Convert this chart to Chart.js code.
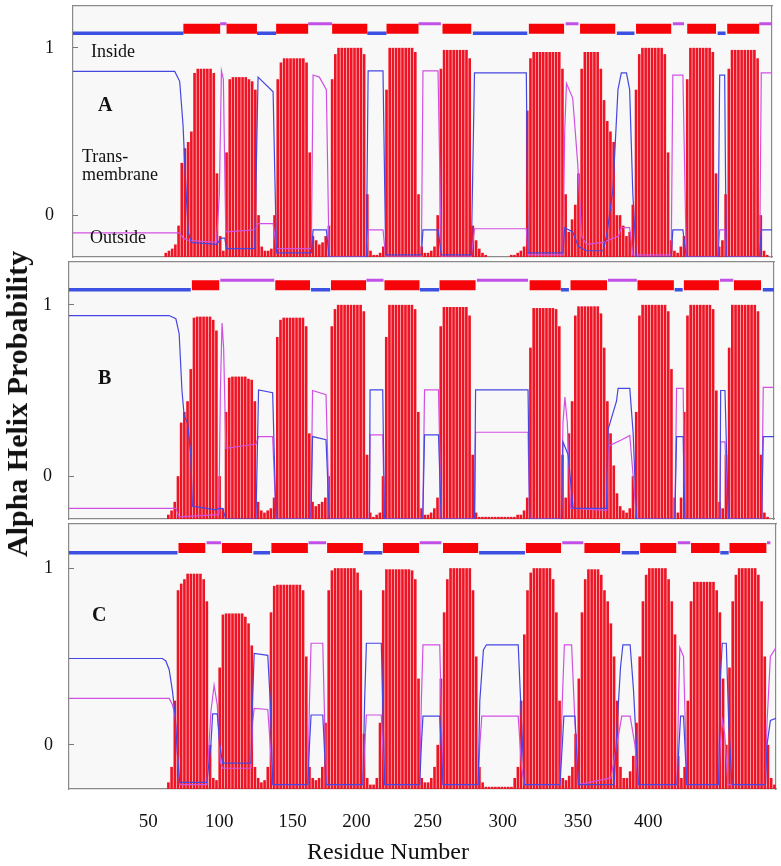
<!DOCTYPE html>
<html>
<head>
<meta charset="utf-8">
<script src="https://cdn.jsdelivr.net/npm/chart.js@4.4.1/dist/chart.umd.min.js"></script>
<style>
    html, body { margin: 0; padding: 0; background: #fff; }
    #wrap { position: relative; width: 781px; height: 866px; overflow: hidden; font-family: "Liberation Serif", "Times New Roman", serif; color: #111; }
    .panel { position: absolute; left: 0; width: 781px; }
    .note { position: absolute; font-size: 18px; line-height: 1; white-space: nowrap; }
    .tag { position: absolute; font-size: 20px; line-height: 1; font-weight: bold; }
    #ytitle { position: absolute; left: 17px; top: 404px; transform: translate(-50%, -50%) rotate(-90deg); font-size: 30px; font-weight: bold; white-space: nowrap; line-height: 1; }
    #xtitle { position: absolute; left: 388px; top: 851px; transform: translate(-50%, -50%); font-size: 24px; white-space: nowrap; line-height: 1; }
</style>
</head>
<body>
<div id="wrap">
    <div class="panel" style="top:0;height:260px"><canvas id="panelA"></canvas></div>
    <div class="panel" style="top:259px;height:262px"><canvas id="panelB"></canvas></div>
    <div class="panel" style="top:521px;height:345px"><canvas id="panelC"></canvas></div>

    <div class="note" style="left:91px;top:42px">Inside</div>
    <div class="tag" style="left:98px;top:94px">A</div>
    <div class="note" style="left:82px;top:147px">Trans-</div>
    <div class="note" style="left:82px;top:165px">membrane</div>
    <div class="note" style="left:90px;top:228px">Outside</div>
    <div class="tag" style="left:98px;top:367px">B</div>
    <div class="tag" style="left:92px;top:604px">C</div>

    <div id="ytitle">Alpha Helix Probability</div>
    <div id="xtitle">Residue Number</div>
</div>
<script>
// one bar every 2 residues, first bar at residue 0
const barStep = 2;

// transmembrane helix probability (red bars), residues 0,2,4,...,440
const tmA = [
    0,0,0,0,0,0,0,0,0,0,
    0,0,0,0,0,0,0,0,0,0,
    0,0,0,0,0,0,0,0,0,0,
    .02,.03,.04,.06,.15,.45,.52,.55,.6,.88,
    .9,.9,.9,.9,.9,.88,.4,.1,.03,.5,
    .85,.86,.86,.86,.86,.86,.85,.84,.8,.2,
    .05,.03,.03,.04,.2,.85,.93,.95,.95,.95,
    .95,.95,.95,.95,.93,.5,.1,.08,.06,.07,
    .1,.15,.85,.97,1,1,1,1,1,1,
    1,1,.97,.3,.03,.01,.01,.02,.05,.8,
    1,1,1,1,1,1,1,1,.98,.3,
    .05,.02,.02,.03,.05,.2,.9,.99,.99,.99,
    .99,.99,.99,.99,.99,.95,.15,.08,.04,.02,
    .01,0,0,0,0,0,0,0,.01,.01,
    .02,.03,.05,.7,.95,.98,.98,.98,.98,.98,
    .98,.98,.98,.98,.9,.3,.12,.18,.25,.4,
    .9,.98,.98,.98,.98,.98,.9,.75,.65,.6,
    .55,.2,.2,.15,.1,.12,.25,.8,.97,1,
    1,1,1,1,1,1,.97,.5,.08,.03,
    .02,.05,.1,.85,1,1,1,1,1,1,
    1,.98,.4,.05,.08,.3,.9,.99,.99,.99,
    .99,.99,.99,.99,.99,.95,.2,.03,.01,0,
    0
];
const tmB = [
    0,0,0,0,0,0,0,0,0,0,
    0,0,0,0,0,0,0,0,0,0,
    0,0,0,0,0,0,0,0,0,0,
    0,.02,.04,.08,.2,.45,.5,.55,.7,.94,
    .945,.945,.945,.945,.945,.93,.88,.2,.05,.5,
    .66,.665,.665,.665,.665,.665,.655,.65,.55,.08,
    .04,.03,.04,.05,.1,.85,.93,.94,.94,.94,
    .94,.94,.94,.94,.9,.4,.08,.06,.07,.08,
    .1,.2,.9,.98,1,1,1,1,1,1,
    1,1,.97,.3,.03,.01,.02,.03,.2,.85,
    1,1,1,1,1,1,1,1,.98,.5,
    .05,.02,.02,.03,.05,.1,.9,.99,.99,.99,
    .99,.99,.99,.99,.99,.95,.3,.03,.01,.01,
    .01,.01,.01,.01,.01,.01,.01,.01,.01,.01,
    .02,.02,.04,.1,.8,.985,.985,.985,.985,.985,
    .985,.985,.98,.9,.3,.1,.4,.55,.95,.993,
    .993,.993,.993,.993,.993,.993,.96,.8,.55,.4,
    .25,.12,.06,.04,.03,.05,.2,.5,.95,1,
    1,1,1,1,1,1,1,.97,.7,.1,
    .03,.1,.5,.95,1,1,1,1,1,1,
    1,.98,.6,.08,.05,.3,.8,1,1,1,
    1,1,1,1,1,.97,.3,.03,.01,0,
    0
];
const tmC = [
    0,0,0,0,0,0,0,0,0,0,
    0,0,0,0,0,0,0,0,0,0,
    0,0,0,0,0,0,0,0,0,0,
    0,.03,.1,.4,.9,.93,.95,.975,.975,.975,
    .975,.975,.95,.85,.2,.05,.04,.55,.79,.795,
    .795,.795,.795,.795,.795,.78,.75,.65,.1,.05,
    .03,.04,.1,.8,.92,.925,.925,.925,.925,.925,
    .925,.925,.925,.9,.6,.1,.05,.04,.05,.1,
    .3,.9,.99,1,1,1,1,1,1,1,
    .98,.9,.25,.05,.02,.02,.05,.3,.9,.995,
    .995,.995,.995,.995,.995,.995,.995,.99,.95,.5,
    .05,.03,.03,.05,.1,.2,.5,.8,.95,1,
    1,1,1,1,1,1,.9,.6,.1,.03,
    .01,.01,.01,.01,.01,.01,.01,.01,.01,.05,
    .1,.4,.7,.9,.98,1,1,1,1,1,
    1,.95,.8,.4,.05,.04,.06,.1,.25,.5,
    .8,.95,.995,.995,.995,.995,.97,.9,.85,.75,
    .6,.4,.1,.05,.05,.08,.15,.3,.6,.85,
    .97,1,1,1,1,1,1,.95,.85,.7,
    .15,.05,.1,.4,.85,.938,.938,.938,.938,.938,
    .938,.938,.9,.8,.5,.2,.55,.85,.97,1,
    1,1,1,1,1,.97,.85,.6,.2,.05,
    .02
];

// inside (blue) and outside (magenta) probability, [residue, value]
const insideA = [[2,.887],[65.6,.887],[68.7,.84],[70.8,.63],[71.9,.44],[74,.12],[76,.07],[91.7,.06],[94.8,.09],[96.9,.09],[97.9,.04],[115.6,.04],[117.7,.86],[127.1,.79],[129.2,.02],[151,.02],[152.1,.13],[160.4,.13],[162.1,0],[185.4,0],[186.5,.89],[195.8,.89],[197.5,.01],[219.8,.01],[220.8,.13],[230.2,.13],[232.3,.01],[251,.01],[253,.88],[285.4,.88],[286.5,.02],[308.3,.02],[309.4,.14],[314.4,.12],[318,.05],[322.9,.03],[333.5,.03],[336,.12],[339.6,.33],[342.7,.8],[344.8,.88],[348,.88],[350,.8],[352,.3],[354.1,0],[376,0],[377,.13],[383.3,.13],[385.4,0],[405.2,0],[406.3,.87],[409.4,.87],[410.4,0],[431.3,0],[432.3,.13],[439,.13]];
const outsideA = [[2,.115],[68.7,.115],[70.8,.09],[74,.08],[91.7,.07],[93.5,.3],[94.8,.89],[96,.85],[97.5,.12],[115.6,.13],[117.7,.16],[127.1,.16],[129.2,.04],[151,.04],[152.1,.87],[156,.86],[160.4,.8],[162.1,0],[185.4,0],[186.5,.13],[195.8,.13],[197.5,0],[219.8,0],[220.8,.89],[230.2,.89],[232.3,0],[251,0],[253,.135],[285.4,.135],[286.5,.01],[308.3,.01],[309.4,.6],[310.5,.83],[314.4,.76],[317.5,.45],[320,.1],[322.9,.06],[333.5,.07],[343,.1],[344.8,.14],[350,.14],[352,.01],[376,.01],[377,.87],[383.3,.87],[385.4,0],[405.2,0],[406.3,.13],[409.4,.13],[410.4,0],[431.3,0],[432.3,.88],[439,.88]];

const insideB = [[0,.95],[62.5,.95],[66.7,.935],[68.75,.865],[70.5,.6],[71.9,.48],[74,.45],[76,.3],[77,.06],[91.7,.043],[93.75,.05],[95.8,.05],[97.9,0],[116.7,0],[118.3,.603],[127.1,.59],[129.2,0],[151,0],[152,.385],[160.4,.37],[162.5,0],[187.5,0],[187.9,.603],[195.8,.603],[196.9,0],[220.8,0],[221.9,.393],[230.6,.393],[232.3,0],[253.1,0],[253.75,.603],[286.5,.603],[287.5,0],[307.3,0],[308.3,.36],[311.5,.3],[314.6,.05],[335.4,.05],[336.5,.42],[341.7,.55],[342.7,.61],[350,.61],[352.1,.4],[354.2,0],[378.1,0],[379.2,.385],[383.3,.385],[384.4,0],[406.25,0],[406.7,.6],[409.4,.6],[411.5,0],[432.3,0],[433.3,.385],[440,.385]];
const outsideB = [[0,.05],[66.7,.05],[68.75,.01],[93.5,.02],[94.5,.6],[95.5,.915],[96.5,.8],[97.9,.33],[116.7,.35],[118.3,.385],[127.1,.385],[129.2,0],[151,0],[152,.6],[160.4,.58],[162.5,0],[187.5,0],[187.9,.393],[195.8,.393],[196.9,0],[220.8,0],[221.9,.603],[230.6,.603],[232.3,0],[253.1,0],[253.75,.405],[286.5,.405],[287.5,0],[307.3,0],[308.3,.45],[309.5,.57],[311,.45],[313,.05],[335.4,.04],[336.5,.34],[345,.37],[350,.39],[352.1,.2],[354.2,0],[378.1,0],[379.2,.61],[383.3,.61],[384.4,0],[406.25,0],[406.7,.36],[409.4,.36],[411.5,0],[432.3,0],[433.3,.615],[440,.615]];

const insideC = [[0,.591],[58.3,.591],[60.4,.58],[62.5,.54],[64.6,.44],[66.25,.33],[67.7,.15],[69,.03],[86,.03],[88.5,.2],[89.6,.34],[92.5,.34],[94,.2],[95.8,.117],[113.5,.117],[114.5,.4],[115.5,.614],[124,.605],[125.5,.4],[127.1,.02],[149,.02],[150,.2],[151,.335],[158.3,.335],[160.4,.02],[183.3,.02],[184.4,.4],[185.5,.66],[194.8,.66],[196.9,.02],[218.75,.02],[219.8,.2],[220.8,.33],[231.25,.33],[233.3,.02],[255.2,.02],[256.25,.4],[258.5,.63],[260.4,.653],[280.2,.653],[282.3,.3],[284,.02],[306.25,.02],[307.7,.2],[308.7,.33],[315.6,.33],[317.7,.02],[340,.02],[342,.3],[344,.55],[345.5,.653],[350,.653],[352.1,.45],[355.2,.02],[379.2,.02],[380.5,.2],[381.5,.33],[383.3,.33],[385.4,.02],[405.2,.02],[406.25,.5],[407.5,.66],[410,.66],[411.5,.3],[413.5,.02],[434.4,.02],[435.4,.2],[437.5,.31],[441,.32]];
const outsideC = [[0,.41],[62.5,.41],[64.6,.38],[66.25,.33],[67.7,.15],[69,.02],[86,.02],[88.5,.35],[90.5,.47],[92.5,.38],[94.5,.12],[95.8,.094],[113.5,.094],[114.5,.3],[115.5,.365],[124,.36],[125.5,.2],[127.1,.02],[149,.02],[150,.4],[151,.66],[158.3,.66],[160.4,.02],[183.3,.02],[184.4,.2],[185.5,.335],[194.8,.335],[196.9,.02],[218.75,.02],[219.8,.4],[220.8,.653],[231.25,.653],[233.3,.02],[255.2,.02],[256.25,.2],[257.5,.33],[280.2,.33],[282.3,.1],[284,.02],[306.25,.02],[307.7,.4],[309,.653],[313.5,.653],[315.6,.3],[317.7,.02],[338,.05],[341.7,.2],[344.8,.33],[350,.33],[353,.2],[355.2,.02],[379.2,.02],[380.2,.4],[381,.64],[383.3,.6],[385.4,.02],[405.2,.02],[406.25,.2],[407.5,.31],[409,.25],[411,.02],[434.4,.02],[435.4,.3],[437.5,.6],[441,.64]];

// predicted topology strip at the top: [from, to] residue ranges
const topoInA = [[2,71],[117,129],[186,198],[252,286],[342,353],[405,410]];
const topoTmA = [[71,94],[98,117],[129,149],[164,186],[198,218],[233,251],[287,309],[319,341],[354,376],[386,404],[411,431]];
const topoOutA = [[94,98],[149,164],[218,232],[310,318],[377,384],[431,439]];

const topoInB = [[0,76],[151,163],[219,231],[307,312],[378,383],[433,440]];
const topoTmB = [[76.7,93.75],[128.75,150.4],[163.5,185.4],[196.9,218.75],[231.25,253.75],[287.5,306.9],[313,335.8],[354.8,377.5],[383.75,405.6],[415,431.9]];
const topoOutB = [[94.4,128.1],[185.6,196.3],[254.6,286.5],[336.4,354.4],[406.25,414.6]];

const topoInC = [[0,67.7],[115,125.4],[183.75,195.4],[255.8,284.4],[344.8,355.6],[406.25,411.5]];
const topoTmC = [[68.3,85],[95.4,114.2],[126.25,149],[161,183.3],[195.8,218.3],[233.3,255.2],[285,306.9],[321.5,343.75],[356.25,378.75],[388,405.8],[412,435]];
const topoOutC = [[85.8,94.8],[149.4,160.4],[218.75,232.3],[307.7,320.8],[379.8,387.5],[435.4,437.5]];

// axis ticks and labels
const xGridTicks = [50, 100, 150, 200, 250, 300, 350, 400];
const xTickLabels = ['50', '100', '150', '200', '250', '300', '350', '400'];
const xTickLabelPos = [49.4, 93.75, 139.4, 179.4, 223.75, 270.6, 317.5, 361.25];
const yTickValues = [1, 0.2];
const yTickLabels = ['1', '0'];

const LEVEL_IN = 1.07, LEVEL_TM = 1.091, LEVEL_OUT = 1.115;
const SERIF = '"Liberation Serif", "Times New Roman", serif';

const plotBg = {
    id: 'plotBg',
    beforeDraw(chart) {
        const a = chart.chartArea;
        const ctx = chart.ctx;
        ctx.save();
        ctx.fillStyle = '#f8f8f8';
        ctx.fillRect(a.left, a.top, a.right - a.left, a.bottom - a.top);
        ctx.restore();
    }
};

function toPoints(pairs) {
    return pairs.map(p => ({x: p[0], y: p[1]}));
}

function segments(ranges, level) {
    const out = [];
    ranges.forEach(r => {
        out.push({x: r[0], y: level}, {x: r[1], y: level}, {x: r[1], y: null});
    });
    return out;
}

function yLabel(value) {
    const i = yTickValues.findIndex(v => Math.abs(v - value) < 1e-6);
    return i >= 0 ? yTickLabels[i] : null;
}

// fixed box size for an axis, and no label overhang padding
function fixSize(key, size) {
    return s => {
        s[key] = size;
        s.paddingTop = 0;
        s.paddingBottom = 0;
        s.paddingLeft = 0;
        s.paddingRight = 0;
    };
}

function makePanel(id, p) {
    const ctx = document.getElementById(id);
    const bars = p.tm.map((v, i) => ({x: i * barStep, y: v}));

    const scales = {
        x: {
            type: 'linear', position: 'bottom', min: p.min, max: p.max, offset: false,
            afterBuildTicks: ax => { ax.ticks = xGridTicks.map(v => ({value: v})); },
            ticks: {autoSkip: false, callback: () => null},
            grid: {drawOnChartArea: false, tickLength: p.bottomTicks, color: '#777'},
            border: {color: '#8a8a8a', width: 1.2},
            afterFit: fixSize('height', p.bottomH)
        },
        xTop: {
            type: 'linear', position: 'top', min: p.min, max: p.max, offset: false,
            afterBuildTicks: ax => { ax.ticks = xGridTicks.map(v => ({value: v})); },
            ticks: {autoSkip: false, callback: () => null},
            grid: {drawOnChartArea: false, tickLength: -5, color: '#777'},
            border: {color: '#8a8a8a', width: 1.2},
            afterFit: fixSize('height', p.topH)
        },
        y: {
            position: 'left', min: 0, max: 1.2,
            ticks: {stepSize: 0.2, autoSkip: false, padding: p.labelPad, color: '#111',
                font: {family: SERIF, size: 18}, callback: v => yLabel(v)},
            grid: {drawOnChartArea: false, tickLength: -5, color: '#777'},
            border: {color: '#8a8a8a', width: 1.2},
            afterFit: fixSize('width', p.leftW)
        },
        yRight: {
            position: 'right', min: 0, max: 1.2,
            ticks: {stepSize: 0.2, callback: () => null},
            grid: {drawOnChartArea: false, tickLength: -5, color: '#777'},
            border: {color: '#8a8a8a', width: 1.2},
            afterFit: fixSize('width', p.rightW)
        }
    };

    if (p.withLabels) {
        scales.xLabels = {
            type: 'linear', position: 'bottom', weight: 1, min: p.min, max: p.max, offset: false,
            afterBuildTicks: ax => { ax.ticks = xTickLabelPos.map(v => ({value: v})); },
            ticks: {autoSkip: false, maxRotation: 0, padding: 8, color: '#111',
                font: {family: SERIF, size: 19},
                callback: (v, i) => xTickLabels[i]},
            grid: {display: false},
            border: {display: false},
            afterFit: fixSize('height', p.labelH)
        };
    }

    new Chart(ctx, {
        type: 'line',
        data: {
            datasets: [
                {type: 'bar', data: bars, backgroundColor: 'rgb(238,20,36)', borderWidth: 0,
                    barPercentage: 0.82, categoryPercentage: 1, order: 3},
                {data: toPoints(p.inside), borderColor: 'rgb(70,70,225)', borderWidth: 1.2,
                    pointRadius: 0, tension: 0, order: 2},
                {data: toPoints(p.outside), borderColor: 'rgb(210,80,225)', borderWidth: 1.2,
                    pointRadius: 0, tension: 0, order: 2},
                {data: segments(p.topoIn, LEVEL_IN), borderColor: 'rgb(60,80,225)', borderWidth: 3.5,
                    pointRadius: 0, spanGaps: false, borderCapStyle: 'butt', order: 1},
                {data: segments(p.topoOut, LEVEL_OUT), borderColor: 'rgb(195,80,230)', borderWidth: 3,
                    pointRadius: 0, spanGaps: false, borderCapStyle: 'butt', order: 1},
                {data: segments(p.topoTm, LEVEL_TM), borderColor: 'rgb(245,5,10)', borderWidth: 10,
                    pointRadius: 0, spanGaps: false, borderCapStyle: 'butt', order: 0}
            ]
        },
        options: {
            responsive: true,
            maintainAspectRatio: false,
            animation: false,
            layout: {padding: 0},
            plugins: {legend: {display: false}, tooltip: {enabled: false}},
            scales: scales
        },
        plugins: [plotBg]
    });
}

makePanel('panelA', {
    tm: tmA, inside: insideA, outside: outsideA,
    topoIn: topoInA, topoTm: topoTmA, topoOut: topoOutA,
    min: 2, max: 439, leftW: 73, rightW: 9, topH: 6, bottomH: 3,
    bottomTicks: -5, labelPad: 24
});
makePanel('panelB', {
    tm: tmB, inside: insideB, outside: outsideB,
    topoIn: topoInB, topoTm: topoTmB, topoOut: topoOutB,
    min: 0, max: 440, leftW: 69, rightW: 7, topH: 3, bottomH: 2,
    bottomTicks: -5, labelPad: 22
});
makePanel('panelC', {
    tm: tmC, inside: insideC, outside: outsideC,
    topoIn: topoInC, topoTm: topoTmC, topoOut: topoOutC,
    min: 0, max: 441, leftW: 69, rightW: 5, topH: 3, bottomH: 6,
    bottomTicks: 6, labelPad: 21, withLabels: true, labelH: 71
});
</script>
</body>
</html>
